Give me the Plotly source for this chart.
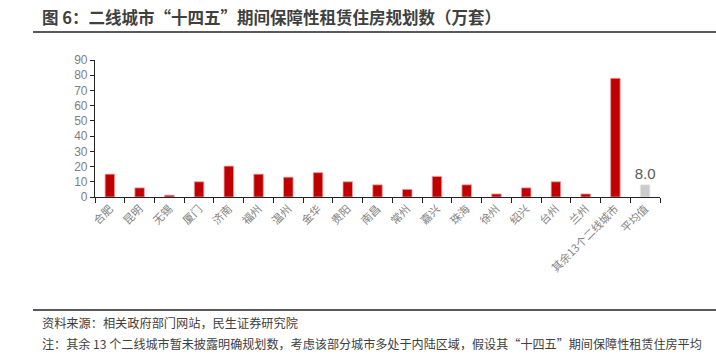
import plotly.graph_objects as go

categories = ["合肥", "昆明", "无锡", "厦门", "济南", "福州", "温州", "金华", "贵阳", "南昌",
              "常州", "嘉兴", "珠海", "徐州", "绍兴", "台州", "兰州", "其余13个二线城市", "平均值"]
values = [15, 6, 1.2, 10, 20.3, 15, 13, 16, 10, 8,
          5, 13.5, 8, 2, 6, 10, 2, 78, 8.0]
bar_colors = ["#C00000"] * 18 + ["#CCCCCC"]
line_colors = ["#F0A0A0"] * 18 + ["#E6E6E6"]
labels = [""] * 18 + ["8.0"]
y_ticks = [0, 10, 20, 30, 40, 50, 60, 70, 80, 90]

W, H = 716, 354
L, R, T, B = 95, 56, 60, 157
ph = H - T - B
pw = W - L - R

def py(p):
    return (H - B - p) / ph

def px(p):
    return (p - L) / pw

FONT = "Noto Sans CJK SC"

fig = go.Figure(go.Bar(
    x=categories, y=values,
    marker=dict(color=bar_colors, line=dict(color=line_colors, width=0.8)),
    width=0.32,
    text=labels, textposition="outside", cliponaxis=False, constraintext="none",
    textfont=dict(family="Liberation Sans", size=15, color="#595959"),
))

fig.update_layout(
    width=W, height=H,
    margin=dict(l=L, r=R, t=T, b=B, autoexpand=False),
    plot_bgcolor="white", paper_bgcolor="white",
    showlegend=False,
    font=dict(family=FONT),
    xaxis=dict(
        type="category", tickangle=-45, showgrid=False,
        showline=True, linecolor="#222222", linewidth=1.2,
        ticks="outside", tickson="boundaries", ticklen=5, tickcolor="#222222",
        tickfont=dict(family=FONT, size=11, color="#7F7F7F"),
        range=[-0.5, len(categories) - 0.5],
    ),
    yaxis=dict(
        range=[0, 90], tickvals=y_ticks, showgrid=False, zeroline=False,
        showline=True, linecolor="#222222", linewidth=1.2,
        ticks="outside", ticklen=4, tickcolor="#222222",
        tickfont=dict(family="Liberation Sans", size=12, color="#7F7F7F"),
    ),
    shapes=[
        dict(type="line", xref="paper", yref="paper", x0=px(33), x1=px(716),
             y0=py(32), y1=py(32), line=dict(color="#595959", width=2)),
        dict(type="line", xref="paper", yref="paper", x0=px(33), x1=px(716),
             y0=py(310), y1=py(310), line=dict(color="#595959", width=2)),
    ],
    annotations=[
        dict(text="<b>图 6：二线城市“十四五”期间保障性租赁住房规划数（万套）</b>",
             xref="paper", yref="paper", x=px(40), y=py(17),
             xanchor="left", yanchor="middle", showarrow=False,
             font=dict(family=FONT, size=16.5, color="#404040")),
        dict(text="资料来源：相关政府部门网站，民生证券研究院",
             xref="paper", yref="paper", x=px(40), y=py(323),
             xanchor="left", yanchor="middle", showarrow=False,
             font=dict(family=FONT, size=12.2, color="#404040")),
        dict(text="注：其余 13 个二线城市暂未披露明确规划数，考虑该部分城市多处于内陆区域，假设其“十四五”期间保障性租赁住房平均",
             xref="paper", yref="paper", x=px(40), y=py(343),
             xanchor="left", yanchor="middle", showarrow=False,
             font=dict(family=FONT, size=12.1, color="#404040")),
    ],
)

fig.write_html("out.html")
